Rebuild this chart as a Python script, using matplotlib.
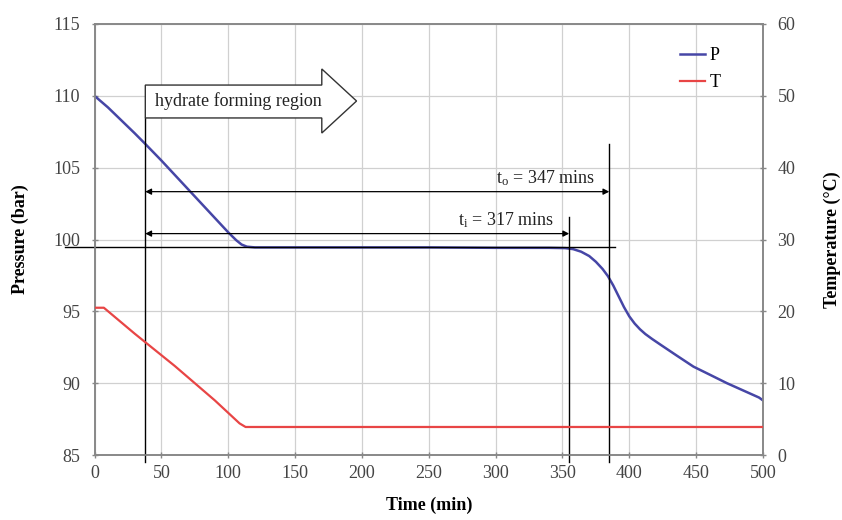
import matplotlib
matplotlib.use("Agg")
import matplotlib.pyplot as plt
from matplotlib.patches import Polygon

plt.rcParams['font.family'] = ['Liberation Serif', 'DejaVu Serif']
plt.rcParams['mathtext.fontset'] = 'custom'
plt.rcParams['mathtext.rm'] = 'Liberation Serif'
plt.rcParams['mathtext.it'] = 'Liberation Serif'

# Pressure series (time min, bar)
p_time = [0, 10, 20, 30, 38, 50, 60, 70, 80, 90, 100, 106, 110, 114, 120, 150, 200,
          250, 300, 340, 352, 358, 364, 370, 375, 380, 384, 388, 392, 396, 400, 404,
          408, 412, 417, 423, 435, 448, 460, 473, 485, 497, 500]
p_vals = [110.0, 109.2, 108.3, 107.4, 106.65, 105.5, 104.5, 103.5, 102.5, 101.5,
          100.5, 99.95, 99.65, 99.5, 99.45, 99.45, 99.45, 99.45, 99.42, 99.42,
          99.4, 99.33, 99.15, 98.85, 98.45, 97.95, 97.45, 96.8, 96.05, 95.3, 94.65,
          94.15, 93.75, 93.42, 93.08, 92.7, 91.95, 91.15, 90.6, 90.0, 89.5, 89.0, 88.8]

# Temperature series (time min, degC)
t_time = [0, 7, 30, 60, 90, 108.5, 113, 150, 300, 500]
t_vals = [20.5, 20.5, 16.9, 12.4, 7.6, 4.4, 3.9, 3.9, 3.9, 3.9]

x_ticks = [0, 50, 100, 150, 200, 250, 300, 350, 400, 450, 500]
p_ticks = [85, 90, 95, 100, 105, 110, 115]
t_ticks = [0, 10, 20, 30, 40, 50, 60]

# Annotation values
t_start = 38
t_induct = 355
t_onset = 385
p_plateau = 99.48

W, H = 842, 520
fig = plt.figure(figsize=(W / 100, H / 100), dpi=100)
ax = fig.add_axes([94.5 / W, 1 - 455 / H, 668.5 / W, 431 / H])
ax2 = ax.twinx()

tick_col = '#444444'
spine_col = '#888888'
fs = 13

ax.set_xlim(0, 500)
ax.set_ylim(85, 115)
ax2.set_ylim(0, 60)
ax.set_xticks(x_ticks)
ax.set_yticks(p_ticks)
ax2.set_yticks(t_ticks)
ax.grid(True, color='#d0d0d0', linewidth=0.9)
ax.set_axisbelow(True)

for a in (ax, ax2):
    for s in a.spines.values():
        s.set_color(spine_col)
        s.set_linewidth(1.2)
    a.tick_params(direction='inout', length=5, width=1, color=spine_col,
                  labelsize=fs, labelcolor=tick_col)
ax.tick_params(axis='y', pad=8)
ax.tick_params(axis='x', pad=5)
ax2.tick_params(axis='y', pad=8)

lp, = ax.plot(p_time, p_vals, color='#4646a6', linewidth=1.8, label='P', zorder=3)
lt, = ax2.plot(t_time, t_vals, color='#e84545', linewidth=1.6, label='T', zorder=3)

ax.set_xlabel('Time (min)', fontsize=fs, fontweight='bold', labelpad=10)
ax.set_ylabel('Pressure (bar)', fontsize=fs, fontweight='bold', labelpad=17)
ax2.set_ylabel('Temperature (\u00b0C)', fontsize=fs, fontweight='bold', labelpad=20)

# reference lines
kw = dict(color='black', linewidth=1.0, clip_on=False, zorder=4)
ax.plot([-22, 389], [p_plateau, p_plateau], **kw)
ax.plot([t_start, t_start], [84.5, 108.46], **kw)
ax.plot([t_induct, t_induct], [84.5, 101.6], **kw)
ax.plot([t_onset, t_onset], [84.5, 106.65], **kw)

arrow_kw = dict(arrowstyle='<|-|>,head_length=0.35,head_width=0.18', color='black',
                lw=0.9, shrinkA=0, shrinkB=0)
ax.annotate('', xy=(t_start, 103.33), xytext=(t_onset, 103.33), arrowprops=arrow_kw, zorder=5)
ax.annotate('', xy=(t_start, 100.41), xytext=(t_induct, 100.41), arrowprops=arrow_kw, zorder=5)
ax.text(374, 103.93, r't$_{\mathregular{o}}$ = 347 mins', ha='right', va='baseline',
        fontsize=fs, color='#222222')
ax.text(343.5, 101.0, r't$_{\mathregular{i}}$ = 317 mins', ha='right', va='baseline',
        fontsize=fs, color='#222222')

# big arrow
arrow_pts = [(t_start, 110.75), (170, 110.75), (170, 111.87), (196, 109.64),
             (170, 107.41), (170, 108.46), (t_start, 108.46)]
ax.add_patch(Polygon(arrow_pts, closed=True, facecolor='white', edgecolor='#333333',
                     linewidth=1.0, zorder=5))
ax.text(45, 109.62, 'hydrate forming region', ha='left', va='center',
        fontsize=fs, color='#222222', zorder=6)

ax2.legend(handles=[lp, lt], loc='upper left', bbox_to_anchor=(680 / W, 1 - 47 / H),
           bbox_transform=fig.transFigure, frameon=False, fontsize=fs,
           handlelength=1.4, handletextpad=0.25, labelspacing=0.55,
           borderpad=0, borderaxespad=0)

fig.savefig('out.png', dpi=100)
